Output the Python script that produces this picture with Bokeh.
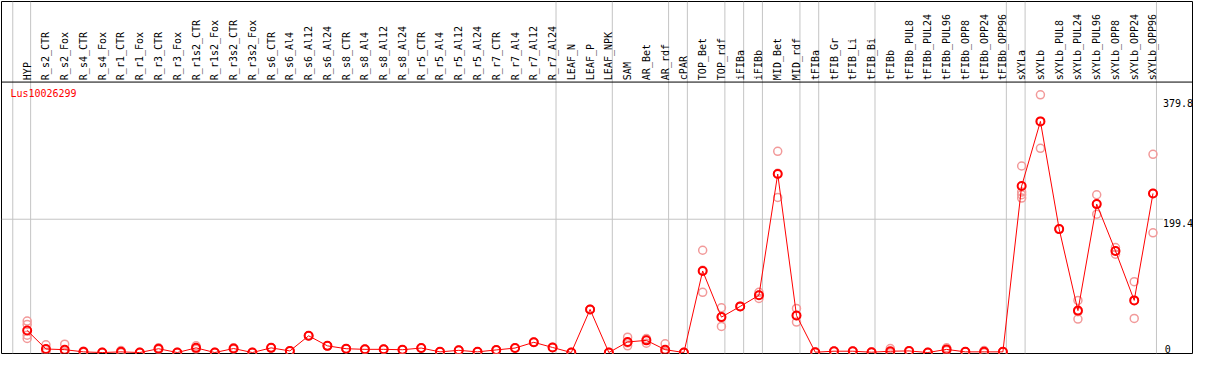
import math
from bokeh.plotting import figure
from bokeh.models import Range1d, Span
from bokeh.core.properties import value
from bokeh.embed import file_html
from bokeh.resources import INLINE

# ---------------- data ----------------
gene = "Lus10026299"
categories = [
    "HYP",
    "R_s2_CTR", "R_s2_Fox", "R_s4_CTR", "R_s4_Fox", "R_r1_CTR", "R_r1_Fox",
    "R_r3_CTR", "R_r3_Fox", "R_r1s2_CTR", "R_r1s2_Fox", "R_r3s2_CTR", "R_r3s2_Fox",
    "R_s6_CTR", "R_s6_Al4", "R_s6_Al12", "R_s6_Al24",
    "R_s8_CTR", "R_s8_Al4", "R_s8_Al12", "R_s8_Al24",
    "R_r5_CTR", "R_r5_Al4", "R_r5_Al12", "R_r5_Al24",
    "R_r7_CTR", "R_r7_Al4", "R_r7_Al12", "R_r7_Al24",
    "LEAF_N", "LEAF_P", "LEAF_NPK",
    "SAM", "AR_Bet", "AR_rdf",
    "cPAR",
    "TOP_Bet", "TOP_rdf",
    "iFIBa", "iFIBb",
    "MID_Bet", "MID_rdf",
    "tFIBa",
    "tFIB_Gr", "tFIB_Li", "tFIB_Bi",
    "tFIBb", "tFIBb_PUL8", "tFIBb_PUL24", "tFIBb_PUL96", "tFIBb_OPP8", "tFIBb_OPP24", "tFIBb_OPP96",
    "sXYLa",
    "sXYLb", "sXYLb_PUL8", "sXYLb_PUL24", "sXYLb_PUL96", "sXYLb_OPP8", "sXYLb_OPP24", "sXYLb_OPP96",
]
group_sizes = [1, 28, 3, 3, 1, 2, 1, 1, 2, 1, 3, 7, 1, 7]

means = [
    33,
    5.3, 4.3, 1.0, 0, 1.0, 0, 5.7, 0, 7, 0, 6, 0,
    7, 2.4, 25, 10,
    5.7, 4.8, 4.8, 4.2,
    6.7, 1, 3.3, 1,
    3.9, 6.7, 15.3, 7.6,
    0, 64.5, 0,
    15.8, 18.2, 4.3,
    0,
    122, 53,
    69, 85.6,
    267, 55.5,
    0.5,
    2, 2, 0.5,
    2, 2.4, 0, 4.7, 1, 1, 1,
    249,
    345.7, 184.6, 62.7, 222, 152, 78, 238,
]
replicates = [
    [47, 42, 26, 21],
    [11.5, 0.5, 4.5], [12.5, 0.3, 0.2], [2, 0.5, 0.5], [0, 0, 0], [3, 0, 0], [0, 0, 0],
    [7, 4.5, 5.5], [0, 0, 0], [10, 6, 5], [0, 0, 0], [7, 5, 6], [0, 0, 0],
    [7, 7, 7], [2.4, 2.4, 2.4], [25, 25, 25], [10, 10, 10],
    [5.7, 5.7, 5.7], [4.8, 4.8, 4.8], [4.8, 4.8, 4.8], [4.2, 4.2, 4.2],
    [6.7, 6.7, 6.7], [1, 1, 1], [3.3, 3.3, 3.3], [1, 1, 1],
    [3.9, 3.9, 3.9], [6.7, 6.7, 6.7], [15.3, 15.3, 15.3], [7.6, 7.6, 7.6],
    [0, 0, 0], [64.5, 64.5, 64.5], [0, 0, 0],
    [23, 10, 14.5], [21, 14, 19.5], [13, 0, 0],
    [0, 0, 0],
    [153, 90, 123], [67, 39, 53],
    [69, 69, 69], [90, 81, 86],
    [301, 232, 268], [66, 45.5, 55],
    [0.5, 0.5, 0.5],
    [2, 2, 2], [2, 2, 2], [0.5, 0.5, 0.5],
    [6, 0, 0], [2.4, 2.4, 2.4], [0, 0, 0], [7, 3, 4], [1, 1, 1], [3, 0, 0], [1, 1, 1],
    [279, 240, 231, 236],
    [385.5, 305.5, 346], [184.6, 184.6, 184.6], [78, 50, 61], [236, 207, 222],
    [157, 147, 152], [106, 51, 78], [296.5, 179, 238],
]
ticks = [0, 199.4, 379.8]
tick_labels = ["0", "199.4", "379.8"]

# ---------------- layout helpers (reference pixel geometry) ----------------
X0, DX = 27.0, 19.0          # first category pixel, category spacing
Y0, SY = 367.0, 0.6971       # pixel of value 0, pixels per unit


def px_x(rx):
    return (rx - X0) / DX


def px_y(ry):
    return (Y0 - ry) / SY


W, H = 1193, 354
FONT = value("DejaVu Sans Mono")
RED = "#ff0000"
PINK = "#f29a9a"
GRAY = "#c4c4c4"

x_lo, x_hi = px_x(1), px_x(1207)
y_lo, y_hi = px_y(368), px_y(1)

p = figure(width=W, height=H, x_range=Range1d(x_lo, x_hi), y_range=Range1d(y_lo, y_hi),
           output_backend="svg", toolbar_location=None,
           min_border_left=1, min_border_right=1, min_border_top=1, min_border_bottom=1)
p.axis.visible = False
p.grid.visible = False
p.outline_line_color = "black"
p.outline_line_width = 1
p.background_fill_color = "white"
p.border_fill_color = "white"

idx = list(range(len(categories)))

# group separators
sep = [px_x(X0 - DX + 3.5 + 0.9)]
end = -1
for g in group_sizes:
    end += g
    sep.append(end + 3.5 / DX)
p.segment(x0=sep, y0=[y_lo] * len(sep), x1=sep, y1=[y_hi] * len(sep),
          line_color=GRAY, line_width=1)

# header separator
header_y = px_y(85)
p.add_layout(Span(location=header_y, dimension="width", line_color="black", line_width=1))

# horizontal grid line at middle tick
p.segment(x0=[x_lo], y0=[ticks[1]], x1=[px_x(1177)], y1=[ticks[1]], line_color=GRAY, line_width=1)

# category labels (vertical)
p.text(x=idx, y=[px_y(83)] * len(idx), text=categories, angle=math.pi / 2,
       text_align="left", text_baseline="middle", text_font=FONT,
       text_font_size="10px", text_color="black")

# title
p.text(x=[px_x(10)], y=[px_y(97)], text=[gene], text_align="left", text_baseline="middle",
       text_font=FONT, text_font_size="10px", text_color=RED)

# right value labels
p.text(x=[px_x(1207.5)] * 2, y=ticks[1:], text=tick_labels[1:], text_align="right",
       text_baseline="top", text_font=FONT, text_font_size="10px", text_color="black")
p.text(x=[px_x(1179)], y=[ticks[0]], text=[tick_labels[0]], text_align="left",
       text_baseline="bottom", text_font=FONT, text_font_size="10px", text_color="black")

# replicates
rx, ry = [], []
for i, reps in enumerate(replicates):
    for v in reps:
        rx.append(i)
        ry.append(v)
p.scatter(rx, ry, marker="circle", size=8, fill_color=None, line_color=PINK, line_width=1.5)

# mean line & points
p.line(idx, means, line_color=RED, line_width=1)
p.scatter(idx, means, marker="circle", size=8, fill_color=None, line_color=RED, line_width=2)

open("out.html", "w").write(file_html(p, INLINE))
